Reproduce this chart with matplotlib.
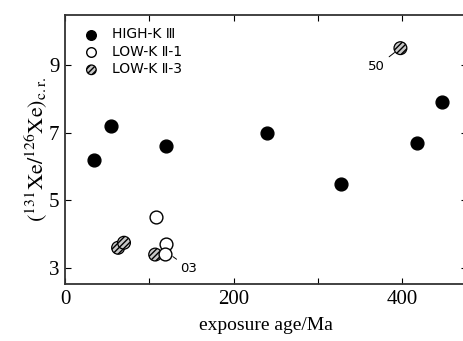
import matplotlib
matplotlib.use("Agg")
import matplotlib.pyplot as plt

# data
high_k_age = [35, 55, 120, 240, 328, 418, 447]
high_k_ratio = [6.2, 7.2, 6.6, 7.0, 5.5, 6.7, 7.9]

low_k1_age = [108, 120, 119]
low_k1_ratio = [4.5, 3.7, 3.43]

low_k3_age = [63, 70, 107, 398]
low_k3_ratio = [3.6, 3.75, 3.4, 9.5]

x_ticks = [0, 100, 200, 300, 400]
x_tick_labels = ["0", "", "200", "", "400"]
y_ticks = [3, 5, 7, 9]

plt.rcParams["font.family"] = ["Liberation Serif", "DejaVu Serif"]
plt.rcParams["mathtext.fontset"] = "stix"

fig = plt.figure(figsize=(4.64, 3.41), dpi=100)
ax = fig.add_axes([65 / 464, 57 / 341, 402 / 464, 269 / 341])

ax.scatter(low_k3_age, low_k3_ratio, s=85, facecolor="#c8c8c8", edgecolor="black",
           hatch="//////", linewidth=0.9, zorder=2, label="LOW-K Ⅱ-3")
ax.scatter(low_k1_age, low_k1_ratio, s=85, facecolor="white", edgecolor="black",
           linewidth=1.0, zorder=3, label="LOW-K Ⅱ-1")
ax.scatter(high_k_age, high_k_ratio, s=85, facecolor="black", edgecolor="black",
           zorder=4, label="HIGH-K Ⅲ")

# point labels with short leader lines
ax.annotate("50", xy=(391, 9.37), xytext=(370, 8.96), fontsize=9.5,
            family="DejaVu Sans", ha="center", va="center",
            arrowprops=dict(arrowstyle="-", lw=0.7, color="black", shrinkA=1, shrinkB=0))
ax.annotate("03", xy=(128, 3.34), xytext=(147, 3.0), fontsize=9.5,
            family="DejaVu Sans", ha="center", va="center",
            arrowprops=dict(arrowstyle="-", lw=0.7, color="black", shrinkA=1, shrinkB=0))

ax.set_xlim(0, 477)
ax.set_ylim(2.53, 10.48)
ax.set_xticks(x_ticks)
ax.set_xticklabels(x_tick_labels)
ax.set_yticks(y_ticks)
ax.tick_params(direction="in", length=4, width=0.8, labelsize=15,
               top=True, right=True, pad=4)
for sp in ax.spines.values():
    sp.set_linewidth(1.3)
    sp.set_color("#333333")
ax.spines["right"].set_visible(False)

ax.set_xlabel("exposure age/Ma", fontsize=14, labelpad=6)
ax.set_ylabel(r"$(^{131}\mathrm{Xe}/^{126}\mathrm{Xe})_{\mathrm{c.r.}}$", fontsize=16,
              labelpad=0)

handles, labels = ax.get_legend_handles_labels()
order = [2, 1, 0]
ax.legend([handles[i] for i in order], [labels[i] for i in order],
          loc="upper left", frameon=False, markerscale=0.75,
          handletextpad=0.5, labelspacing=0.25, borderaxespad=0.3,
          borderpad=0.6, prop={"family": "DejaVu Sans", "size": 10})

fig.savefig("out.png", dpi=100)
